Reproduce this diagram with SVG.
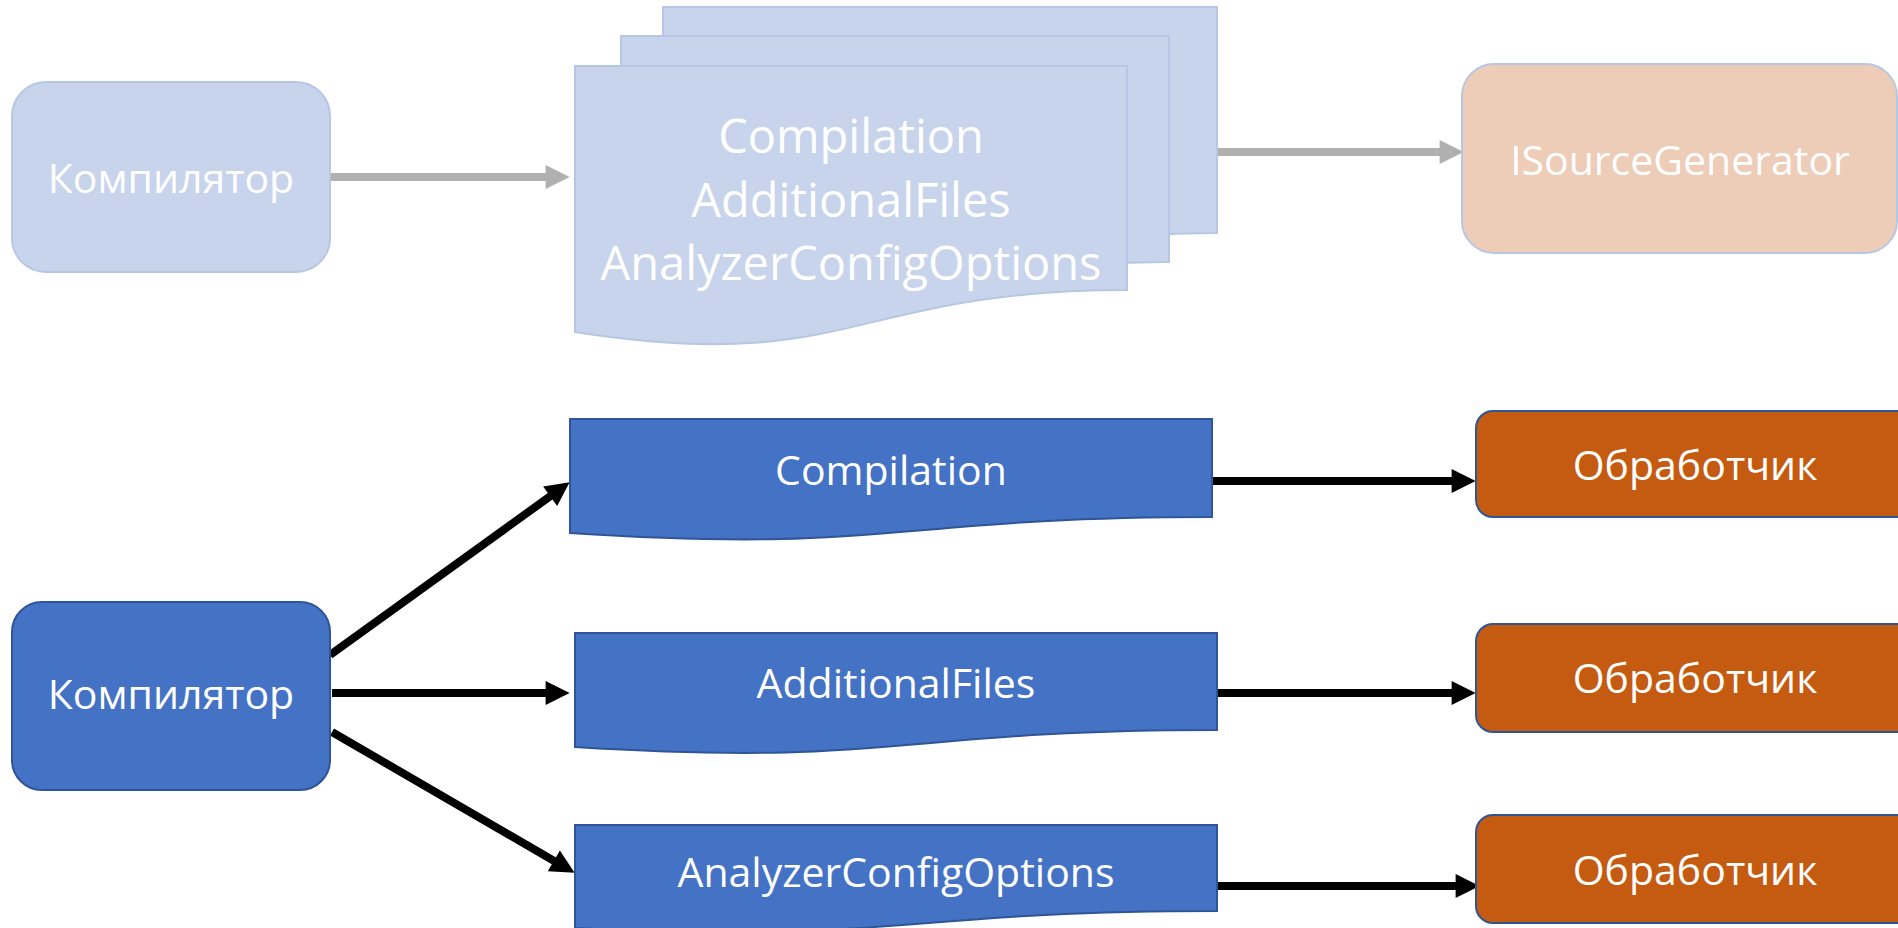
<svg xmlns="http://www.w3.org/2000/svg" width="1898" height="928" viewBox="0 0 1898 928">
<defs>
<style>
text{font-family:"Open Sans","Noto Sans","DejaVu Sans",sans-serif;fill:#FFFFFF;text-anchor:middle}
.t41{font-size:41px}
.t47{font-size:47px}
.pale{fill:#C7D4EC;stroke:#B7C7E3;stroke-width:2}
.paleo{fill:#EDCCB8;stroke:#B7C7E3;stroke-width:2}
.blue{fill:#4472C4;stroke:#2F5597;stroke-width:2}
.orange{fill:#C55A11;stroke:#2F5597;stroke-width:2}
.ga{stroke:#B0B0B0;stroke-width:8;fill:none}
.ka{stroke:#000000;stroke-width:8;fill:none}
</style>
<marker id="ag" markerUnits="strokeWidth" markerWidth="3" markerHeight="3" refX="0.05" refY="1.5" orient="auto" overflow="visible">
<path d="M0,0 L3,1.5 L0,3 Z" fill="#B0B0B0"/>
</marker>
<marker id="ak" markerUnits="strokeWidth" markerWidth="3" markerHeight="3" refX="0.05" refY="1.5" orient="auto" overflow="visible">
<path d="M0,0 L3,1.5 L0,3 Z" fill="#000000"/>
</marker>
</defs>
<rect width="1898" height="928" fill="#FFFFFF"/>

<g id="connectors">
<line class="ga" x1="322" y1="177" x2="546" y2="177" marker-end="url(#ag)"/>
<line class="ga" x1="1217" y1="152" x2="1440" y2="152" marker-end="url(#ag)"/>
<line class="ka" x1="330" y1="655" x2="550.5" y2="496" marker-end="url(#ak)"/>
<line class="ka" x1="332" y1="693" x2="546" y2="693" marker-end="url(#ak)"/>
<line class="ka" x1="332" y1="732" x2="554.2" y2="861" marker-end="url(#ak)"/>
<line class="ka" x1="1212" y1="481" x2="1452" y2="481" marker-end="url(#ak)"/>
<line class="ka" x1="1211" y1="693" x2="1452" y2="693" marker-end="url(#ak)"/>
<line class="ka" x1="1217" y1="886" x2="1456" y2="886" marker-end="url(#ak)"/>
</g>

<g id="compiler-top">
<rect class="pale" x="12" y="82" width="318" height="190" rx="34" ry="34"/>
<text class="t41" x="171" y="193">Компилятор</text>
</g>

<g id="docs-top">
<path class="pale" d="M663,7 L1217,7 L1217,233 C940,233 940,319 663,275 Z"/>
<path class="pale" d="M621,36 L1169,36 L1169,262 C895,262 895,348 621,304 Z"/>
<path class="pale" d="M575,66 L1127,66 L1127,290 C851,290 851,375.5 575,332 Z"/>
<text class="t47" x="851" y="153">Compilation</text>
<text class="t47" x="851" y="217">AdditionalFiles</text>
<text class="t47" x="851" y="280">AnalyzerConfigOptions</text>
</g>

<g id="isourcegenerator">
<rect class="paleo" x="1462" y="64" width="435" height="189" rx="32" ry="32"/>
<text class="t41" x="1680" y="175">ISourceGenerator</text>
</g>

<g id="compiler-bottom">
<rect class="blue" x="12" y="602" width="318" height="188" rx="30" ry="30"/>
<text class="t41" x="171" y="709">Компилятор</text>
</g>

<g id="doc-compilation">
<path class="blue" d="M570,419 L1212,419 L1212,517 C891,517 891,554 570,533 Z"/>
<text class="t41" x="891" y="485">Compilation</text>
</g>

<g id="doc-additionalfiles">
<path class="blue" d="M575,633 L1217,633 L1217,730 C896,730 896,767 575,747 Z"/>
<text class="t41" x="896" y="698">AdditionalFiles</text>
</g>

<g id="doc-analyzerconfigoptions">
<path class="blue" d="M575,825 L1217,825 L1217,911 C896,911 896,944 575,928 Z"/>
<text class="t41" x="896" y="887">AnalyzerConfigOptions</text>
</g>

<g id="handler-1">
<rect class="orange" x="1476" y="411" width="440" height="106" rx="17" ry="17"/>
<text class="t41" x="1695" y="480">Обработчик</text>
</g>

<g id="handler-2">
<rect class="orange" x="1476" y="624" width="440" height="108" rx="17" ry="17"/>
<text class="t41" x="1695" y="693">Обработчик</text>
</g>

<g id="handler-3">
<rect class="orange" x="1476" y="815" width="440" height="108" rx="17" ry="17"/>
<text class="t41" x="1695" y="885">Обработчик</text>
</g>
</svg>
